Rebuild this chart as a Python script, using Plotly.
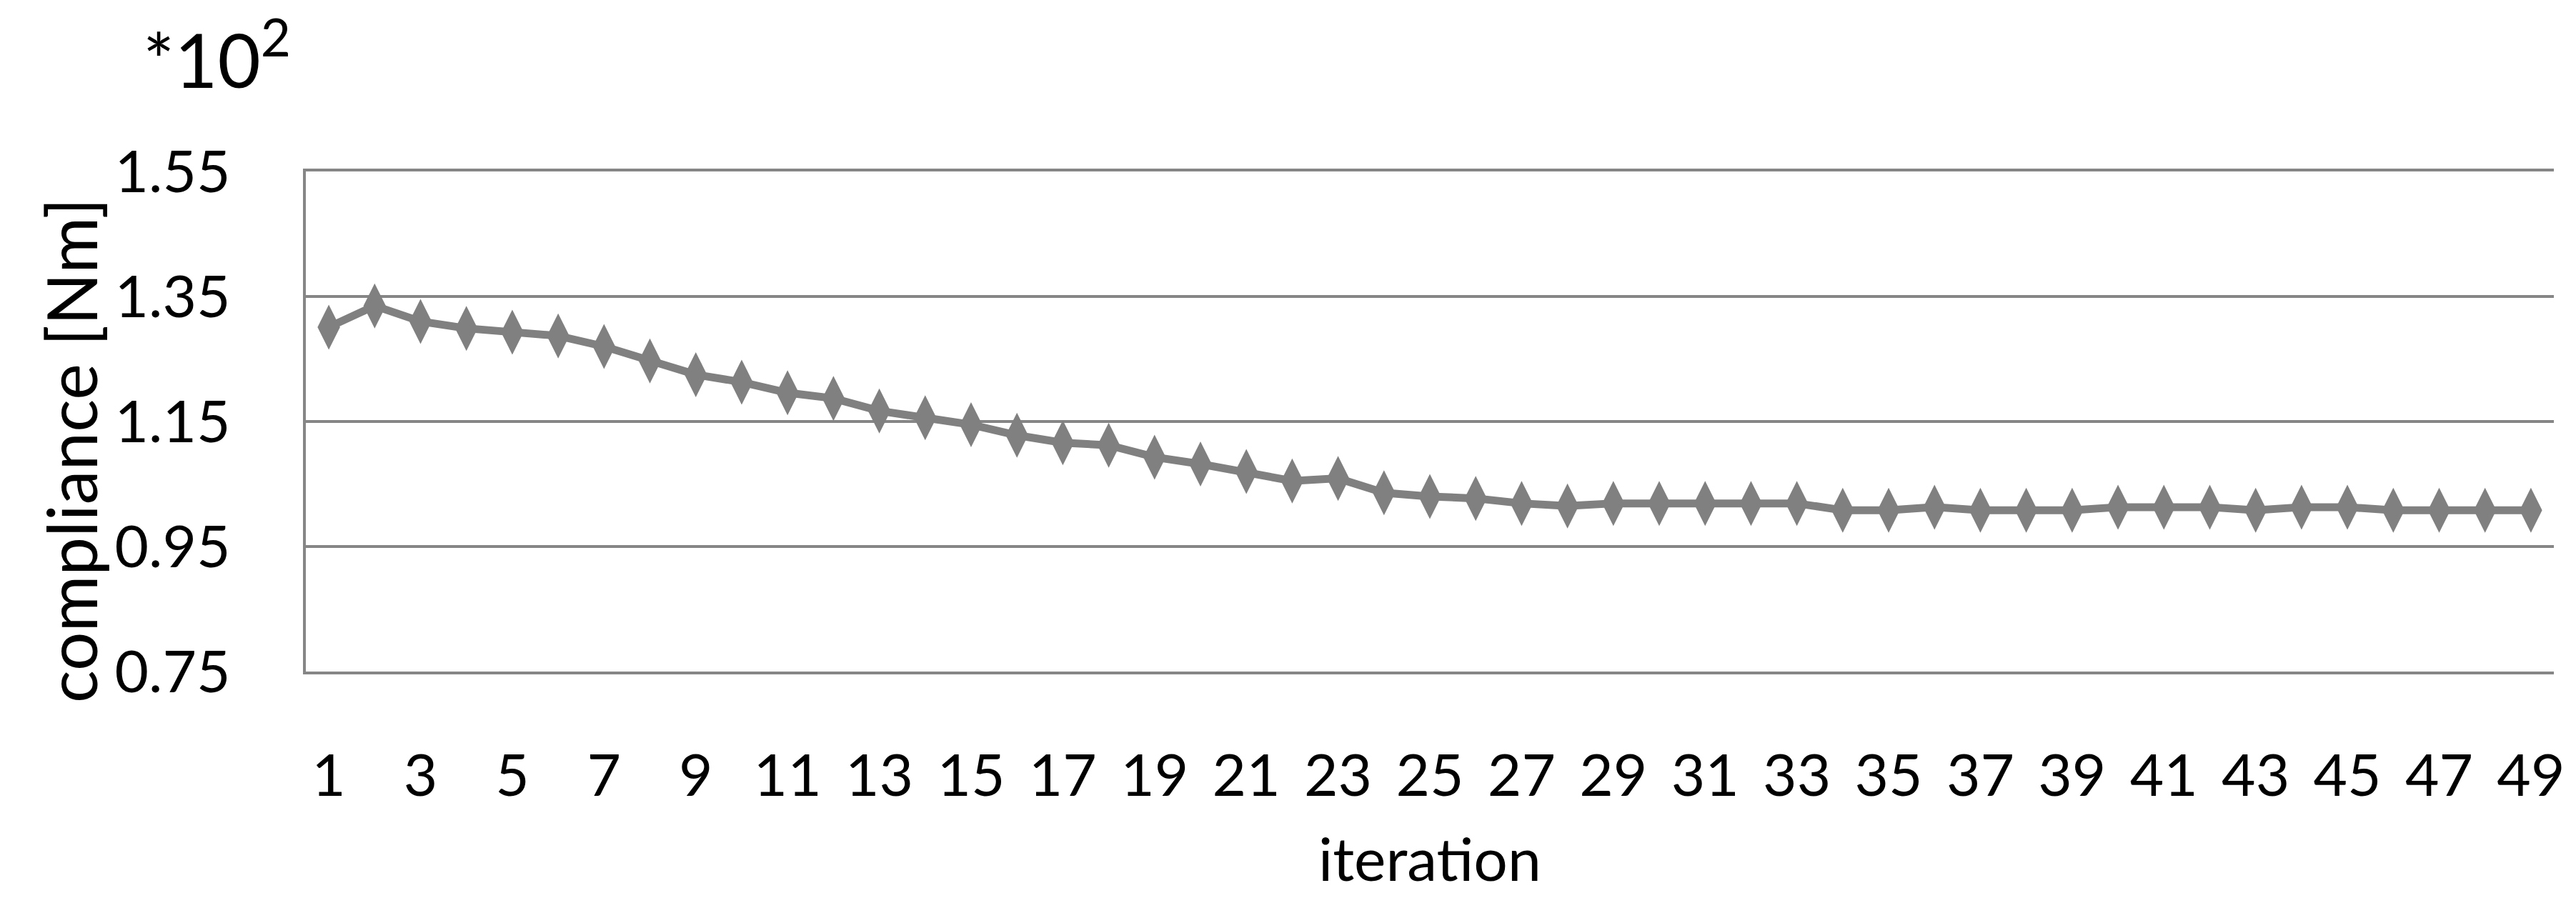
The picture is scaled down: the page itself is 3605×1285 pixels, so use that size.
import plotly.graph_objects as go

# iteration number and compliance (in units of 10^2 Nm)
iterations = list(range(1, 50))
compliance = [1.301, 1.335, 1.310, 1.299, 1.293, 1.287, 1.270, 1.247, 1.225, 1.213,
              1.196, 1.187, 1.167, 1.156, 1.145, 1.128, 1.116, 1.112, 1.093, 1.082,
              1.070, 1.055, 1.059, 1.036, 1.030, 1.027, 1.019, 1.015, 1.019, 1.019,
              1.019, 1.019, 1.019, 1.008, 1.008, 1.013, 1.008, 1.008, 1.008, 1.013,
              1.013, 1.013, 1.008, 1.013, 1.013, 1.008, 1.008, 1.008, 1.008]
y_ticks = [0.75, 0.95, 1.15, 1.35, 1.55]
x_ticks = list(range(1, 50, 2))

grey = '#808080'
line_grey = '#868686'
font = 'Lato'

fig = go.Figure()
fig.add_trace(go.Scatter(x=iterations, y=compliance, mode='lines+markers',
                         line=dict(color=grey, width=11),
                         marker=dict(symbol='diamond-tall', size=45, color=grey)))

fig.update_layout(
    width=3605, height=1285,
    margin=dict(l=420, r=39, t=232, b=353),
    paper_bgcolor='white', plot_bgcolor='white',
    showlegend=False,
    font=dict(family=font, color='black', size=80),
)
# x axis line mirrored gives the 0.75 and 1.55 lines at the plot edges
fig.update_xaxes(range=[0.5, 49.5], tickvals=x_ticks, showgrid=False,
                 zeroline=False, showline=True, mirror=True,
                 linecolor=line_grey, linewidth=4, ticks='',
                 ticklabelstandoff=72, tickfont=dict(size=82))
fig.update_yaxes(range=[0.75, 1.55], tickvals=y_ticks,
                 ticktext=['%.2f' % v for v in y_ticks],
                 showgrid=True, gridcolor=line_grey, gridwidth=4,
                 zeroline=False, showline=True, linecolor=line_grey, linewidth=4,
                 ticks='', ticklabelstandoff=85, tickfont=dict(size=82))

# axis titles and multiplier placed as annotations (pixel positions)
pw, ph = 3605 - 420 - 39, 1285 - 232 - 353
def px(x, y):
    return (x - 420) / pw, (1285 - y - 353) / ph

ax, ay = px(90, 623)
fig.add_annotation(text='compliance [Nm]', x=ax, y=ay, xref='paper', yref='paper',
                   xanchor='center', yanchor='middle',
                   showarrow=False, textangle=-90, font=dict(size=96))
ax, ay = px(1993, 1192)
fig.add_annotation(text='iteration', x=ax, y=ay, xref='paper', yref='paper',
                   xanchor='center', yanchor='middle',
                   showarrow=False, font=dict(size=84))
ax, ay = px(190, 68)
fig.add_annotation(text='*10<sup>2</sup>', x=ax, y=ay, xref='paper', yref='paper',
                   xanchor='left', yanchor='middle', showarrow=False, font=dict(size=104))

fig.write_html("out.html")
